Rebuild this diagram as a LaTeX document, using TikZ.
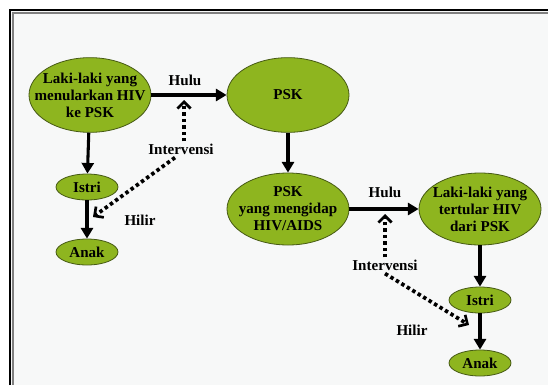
\documentclass[tikz,border=0pt]{standalone}
\usepackage{fontspec}
\setmainfont{Liberation Serif}
\usepackage{xcolor}
\usetikzlibrary{shapes.geometric, positioning, arrows.meta}

\definecolor{pskgreen}{RGB}{142,181,31}
\definecolor{pskedge}{RGB}{70,90,20}
\definecolor{panelbg}{RGB}{247,248,248}

\begin{document}
\begin{tikzpicture}[
        x=0.75pt, y=-0.75pt,
        % Define styles for the diagram elements
        txt/.style={font=\fontsize{11.3}{12.75}\selectfont\bfseries, align=center, inner sep=0pt},
        bigblob/.style={ellipse, draw=pskedge, fill=pskgreen, line width=0.6pt, minimum width=91.5pt, minimum height=54pt, inner sep=0pt},
        smallblob/.style={ellipse, draw=pskedge, fill=pskgreen, line width=0.6pt, minimum width=46.5pt, minimum height=19.5pt, inner sep=0pt},
        flow/.style={line width=2.3pt, -{Triangle[length=8pt, width=9pt]}},
        hint/.style={line width=2.8pt, dash pattern=on 2.6pt off 2.2pt, -{Straight Barb[length=5pt, width=10pt, line width=2pt]}}
    ]
        \useasboundingbox (0,0) rectangle (548,385);

        % --------------------------------------------------------
        % Frame
        % --------------------------------------------------------
        \fill[panelbg] (10,10) rectangle (548,385);
        \draw[line width=1.4pt] (10,385) -- (10,10) -- (548,10);
        \draw[gray, line width=0.8pt] (13,385) -- (13,13) -- (548,13);

        % --------------------------------------------------------
        % Upper chain: Laki-laki -> PSK
        % --------------------------------------------------------
        \node[bigblob, minimum height=56pt, label={[txt]center:Laki-laki yang\\menularkan HIV\\ke PSK}] (menular) at (90,95) {};
        \node[bigblob, minimum height=56pt, label={[txt]center:PSK}] (psk) at (288,95) {};
        \draw[flow] (menular) -- (psk);

        \node[txt] (hulu1) at (185,80) {Hulu};

        % Family of the first man
        \node[smallblob, label={[txt]center:Istri}] (istri1) at (87,187) {};
        \node[smallblob, label={[txt]center:Anak}] (anak1) at (87,252) {};
        \draw[flow] (menular) -- (istri1);
        \draw[flow] (istri1) -- (anak1);

        \node[txt] (hilir1) at (140,220) {Hilir};

        % Intervention on the first chain
        \node[txt] (interv1) at (181,149) {Intervensi};
        \coordinate (up1) at (184,100);
        \coordinate (down1) at (93,217);
        \draw[hint] (interv1.north -| up1) ++(0,-2) -- (up1);
        \draw[hint] (interv1.south) ++(-6,3) -- (down1);

        % --------------------------------------------------------
        % Lower chain: PSK with HIV -> Laki-laki
        % --------------------------------------------------------
        \node[bigblob, label={[txt]center:PSK\\yang mengidap\\HIV/AIDS}] (pskhiv) at (288,209) {};
        \node[bigblob, label={[txt]center:Laki-laki yang\\tertular HIV\\dari PSK}] (tertular) at (480,209) {};
        \draw[flow] (psk) -- (pskhiv);
        \draw[flow] (pskhiv) -- (tertular);

        \node[txt] (hulu2) at (385,192) {Hulu};

        % Family of the second man
        \node[smallblob, label={[txt]center:Istri}] (istri2) at (480,300) {};
        \node[smallblob, label={[txt]center:Anak}] (anak2) at (480,363) {};
        \draw[flow] (tertular) -- (istri2);
        \draw[flow] (istri2) -- (anak2);

        \node[txt] (hilir2) at (412,330) {Hilir};

        % Intervention on the second chain
        \node[txt] (interv2) at (385,265) {Intervensi};
        \coordinate (up2) at (385,214);
        \coordinate (down2) at (469,325);
        \draw[hint] (interv2.north) ++(0,-2) -- (up2);
        \draw[hint] (interv2.south) ++(0,3) -- (down2);

    \end{tikzpicture}
\end{document}
